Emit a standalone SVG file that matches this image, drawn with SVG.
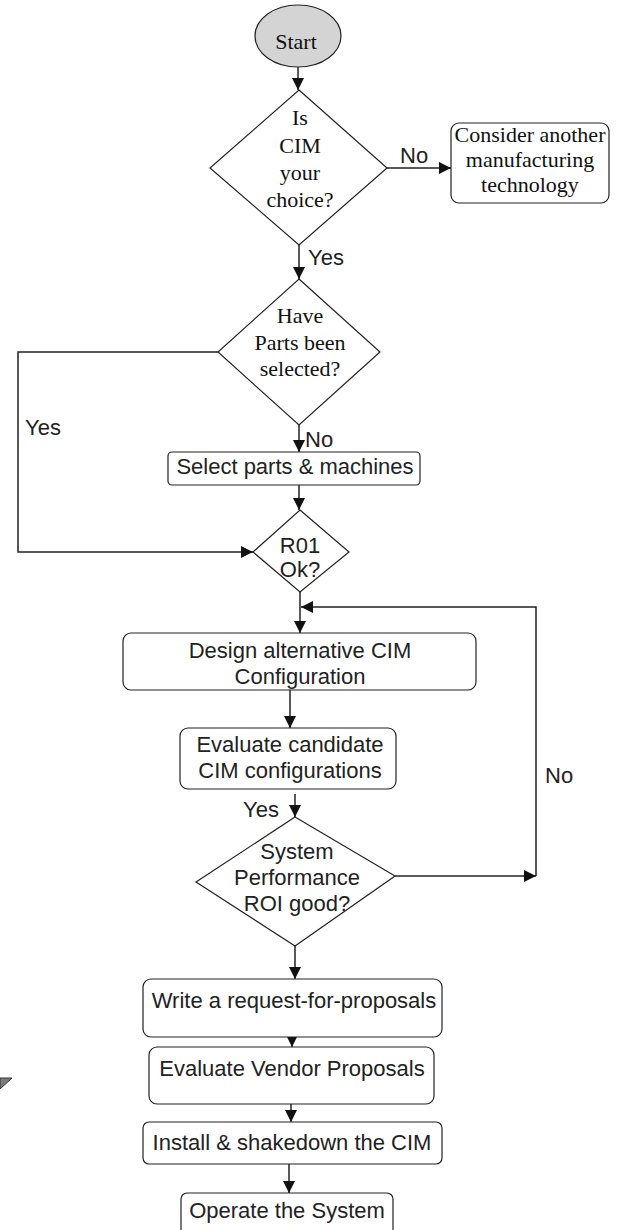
<svg xmlns="http://www.w3.org/2000/svg" width="626" height="1230" viewBox="0 0 626 1230">
<style>
.shape{fill:#fff;stroke:#222;stroke-width:1.2}
.start{fill:#d4d4d4;stroke:#222;stroke-width:1.2}
.serif{font-family:"Liberation Serif","Times New Roman",serif;font-size:22px;fill:#111;text-anchor:middle}
.sans{font-family:"Liberation Sans",Arial,sans-serif;font-size:22px;fill:#222;text-anchor:middle}
.lbl{font-family:"Liberation Sans",Arial,sans-serif;font-size:22px;fill:#222}
.conn{fill:none;stroke:#222;stroke-width:1.5}
</style>
<defs>
<marker id="ah" viewBox="0 0 12 12" refX="12" refY="6" markerWidth="12" markerHeight="12" markerUnits="userSpaceOnUse" orient="auto">
<path d="M0,0 L12,6 L0,12 Z" fill="#111"/>
</marker>
</defs>
<rect width="626" height="1230" fill="#fff"/>

<g id="connectors">
<path class="conn" d="M298,67 V90" marker-end="url(#ah)"/>
<path class="conn" d="M387,168 H451" marker-end="url(#ah)"/>
<path class="conn" d="M299,245 V279" marker-end="url(#ah)"/>
<path class="conn" d="M218,352 H18 V552 H253" marker-end="url(#ah)"/>
<path class="conn" d="M299,425 V452" marker-end="url(#ah)"/>
<path class="conn" d="M299,485 V510" marker-end="url(#ah)"/>
<path class="conn" d="M300,592 V633" marker-end="url(#ah)"/>
<path class="conn" d="M395,876 H536" marker-end="url(#ah)"/>
<path class="conn" d="M536,876 V607 H301" marker-end="url(#ah)"/>
<path class="conn" d="M290,690 V728" marker-end="url(#ah)"/>
<path class="conn" d="M295,794 V817" marker-end="url(#ah)"/>
<path class="conn" d="M295,946 V979" marker-end="url(#ah)"/>
<path class="conn" d="M292,1020 V1047" marker-end="url(#ah)"/>
<path class="conn" d="M291,1085 V1122" marker-end="url(#ah)"/>
<path class="conn" d="M289,1164 V1193" marker-end="url(#ah)"/>
<text class="lbl" x="400" y="163">No</text>
<text class="lbl" x="308" y="265">Yes</text>
<text class="lbl" x="25" y="435">Yes</text>
<text class="lbl" x="305" y="447">No</text>
<text class="lbl" x="545" y="783">No</text>
<text class="lbl" x="243" y="817">Yes</text>
</g>

<g id="start">
<ellipse class="start" cx="298" cy="36" rx="43" ry="31"/>
<text class="serif" x="296" y="49">Start</text>
</g>

<g id="cim-choice">
<polygon class="shape" points="299,90 387,168 299,245 210,168"/>
<text class="serif" x="300" y="125">Is</text>
<text class="serif" x="300" y="153">CIM</text>
<text class="serif" x="300" y="180">your</text>
<text class="serif" x="300" y="207">choice?</text>
</g>

<g id="consider-another">
<rect class="shape" x="451" y="123" width="158" height="80" rx="8"/>
<text class="serif" x="530" y="142">Consider another</text>
<text class="serif" x="530" y="167">manufacturing</text>
<text class="serif" x="530" y="192">technology</text>
</g>

<g id="parts-selected">
<polygon class="shape" points="299,279 380,352 299,425 218,352"/>
<text class="serif" x="300" y="323">Have</text>
<text class="serif" x="300" y="350">Parts been</text>
<text class="serif" x="300" y="376">selected?</text>
</g>

<g id="select-parts">
<rect class="shape" x="168" y="452" width="252" height="33" rx="4"/>
<text class="sans" x="295" y="474">Select parts &amp; machines</text>
</g>

<g id="roi-ok">
<polygon class="shape" points="300,510 349,552 300,592 253,552"/>
<text class="sans" x="300" y="553">R01</text>
<text class="sans" x="300" y="577">Ok?</text>
</g>

<g id="design-alternative">
<rect class="shape" x="123" y="633" width="353" height="57" rx="8"/>
<text class="sans" x="300" y="658">Design alternative CIM</text>
<text class="sans" x="300" y="684">Configuration</text>
</g>

<g id="evaluate-candidate">
<rect class="shape" x="180" y="728" width="216" height="61" rx="8"/>
<text class="sans" x="290" y="752">Evaluate candidate</text>
<text class="sans" x="290" y="778">CIM configurations</text>
</g>

<g id="system-performance">
<polygon class="shape" points="295,817 395,876 295,946 196,882"/>
<text class="sans" x="297" y="859">System</text>
<text class="sans" x="297" y="885">Performance</text>
<text class="sans" x="297" y="911">ROI good?</text>
</g>

<g id="write-rfp">
<rect class="shape" x="143" y="979" width="299" height="58" rx="8"/>
<text class="sans" x="294" y="1008">Write a request-for-proposals</text>
</g>

<g id="evaluate-vendor">
<rect class="shape" x="149" y="1047" width="285" height="57" rx="8"/>
<text class="sans" x="292" y="1076">Evaluate Vendor Proposals</text>
</g>

<g id="install">
<rect class="shape" x="143" y="1122" width="299" height="42" rx="6"/>
<text class="sans" x="292" y="1150">Install &amp; shakedown the CIM</text>
</g>

<g id="operate">
<rect class="shape" x="181" y="1193" width="212" height="50" rx="6"/>
<text class="sans" x="287" y="1218">Operate the System</text>
</g>

<polygon points="0,1078 12,1078 0,1089" fill="#7a7a7a" stroke="#333" stroke-width="1"/>
</svg>
